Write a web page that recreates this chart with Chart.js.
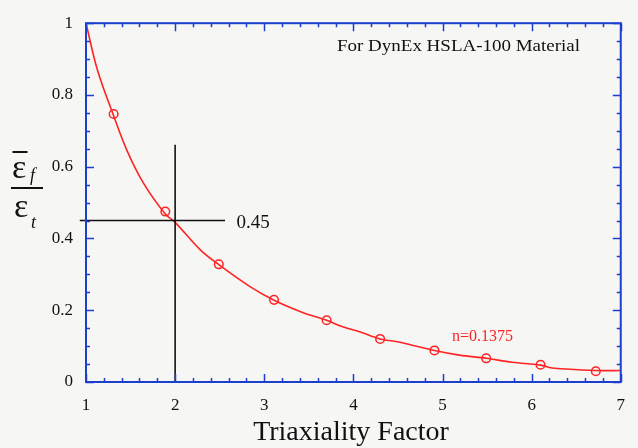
<!DOCTYPE html>
<html><head><meta charset="utf-8">
<script src="https://cdn.jsdelivr.net/npm/chart.js@4/dist/chart.umd.min.js"></script>
<style>html,body{margin:0;padding:0;background:#f6f6f4;}canvas{display:block}</style>
</head><body>
<canvas id="c" width="638" height="448"></canvas>
<script>
// Fitted curve
const curveX = [1.0, 1.13, 1.31, 1.46, 1.65, 1.89, 2.0, 2.28, 2.49, 2.84, 3.11, 3.43, 3.70, 3.88, 4.07, 4.30, 4.52, 4.91, 5.19, 5.49, 5.78, 6.10, 6.23, 6.72, 7.0];
const curveY = [1.0, 0.868, 0.742, 0.645, 0.552, 0.468, 0.445, 0.369, 0.327, 0.266, 0.228, 0.194, 0.172, 0.154, 0.140, 0.120, 0.111, 0.088, 0.075, 0.066, 0.055, 0.047, 0.039, 0.032, 0.032];
// Measured points (circles)
const pointX = [1.31, 1.89, 2.49, 3.11, 3.70, 4.30, 4.91, 5.49, 6.10, 6.72];
const pointY = [0.747, 0.475, 0.328, 0.229, 0.172, 0.120, 0.088, 0.066, 0.048, 0.030];
// Crosshair
const crossVX = [2, 2];
const crossVY = [0, 0.661];
const crossHX = [0.93, 2.56];
const crossHY = [0.45, 0.45];
const crossLabel = '0.45';
// Axis ticks
const xTickLabels = ['1','2','3','4','5','6','7'];
const yTickLabels = ['0','0.2','0.4','0.6','0.8','1'];
const xTitle = 'Triaxiality Factor';
const noteText = 'For DynEx HSLA-100 Material';
const fitText = 'n=0.1375';

const BLUE = '#1d3fd0';
const RED = '#ff2424';
const SERIF = '"Liberation Serif", "DejaVu Serif", serif';

const toPts = (xs, ys) => xs.map((x, i) => ({x, y: ys[i]}));

const decor = {
  id: 'decor',
  beforeDraw(chart) {
    const c = chart.ctx;
    c.save();
    c.fillStyle = '#f6f6f4';
    c.fillRect(0, 0, chart.width, chart.height);
    c.restore();
  },
  afterDraw(chart) {
    const c = chart.ctx, a = chart.chartArea;
    const xs = chart.scales.x, ys = chart.scales.y;
    c.save();
    // frame
    c.strokeStyle = BLUE;
    c.lineWidth = 2;
    c.strokeRect(a.left, a.top, a.right - a.left, a.bottom - a.top);
    // ticks inward
    c.lineWidth = 1.5;
    c.beginPath();
    for (let i = 0; i <= 30; i++) {
      const v = 1 + i * 0.2;
      const px = Math.round(xs.getPixelForValue(v)) + 0.5;
      const len = (i % 5 === 0) ? 8 : 4;
      c.moveTo(px, a.bottom); c.lineTo(px, a.bottom - len);
      c.moveTo(px, a.top); c.lineTo(px, a.top + len);
    }
    for (let i = 0; i <= 20; i++) {
      const v = i * 0.05;
      const py = Math.round(ys.getPixelForValue(v)) + 0.5;
      const len = (i % 4 === 0) ? 8 : 4;
      c.moveTo(a.left, py); c.lineTo(a.left + len, py);
      c.moveTo(a.right, py); c.lineTo(a.right - len, py);
    }
    c.stroke();
    // texts
    c.fillStyle = '#111';
    c.textBaseline = 'alphabetic';
    c.textAlign = 'left';
    c.font = '19px ' + SERIF;
    c.fillText(crossLabel, xs.getPixelForValue(2.69), ys.getPixelForValue(0.45) + 7);
    // note
    c.font = '16px "Palatino Linotype", ' + SERIF;
    const w = c.measureText(noteText).width;
    const target = 243;
    c.save();
    c.translate(337, 51);
    c.scale(target / w, 1);
    c.fillText(noteText, 0, 0);
    c.restore();
    // fit label
    c.fillStyle = RED;
    c.font = '16px ' + SERIF;
    c.fillText(fitText, 452, 341);
    // x title
    c.fillStyle = '#111';
    c.font = '28px ' + SERIF;
    c.textAlign = 'center';
    c.fillText(xTitle, 351, 440);
    // y title: fraction eps_f(bar) / eps_t
    c.textAlign = 'left';
    c.font = '34px ' + SERIF;
    c.fillText('\u03b5', 12, 178);
    c.fillText('\u03b5', 14, 217);
    c.font = 'italic 18px ' + SERIF;
    c.fillText('f', 30, 181);
    c.fillText('t', 31, 228);
    c.lineWidth = 2;
    c.strokeStyle = '#111';
    c.beginPath();
    c.moveTo(12.5, 152); c.lineTo(27.5, 152);
    c.moveTo(11, 188); c.lineTo(43, 188);
    c.stroke();
    c.restore();
  }
};

new Chart(document.getElementById('c'), {
  type: 'scatter',
  data: {
    datasets: [
      { data: toPts(crossVX, crossVY), showLine: true, borderColor: '#111', borderWidth: 1.6, pointRadius: 0, clip: false },
      { data: toPts(crossHX, crossHY), showLine: true, borderColor: '#111', borderWidth: 1.6, pointRadius: 0, clip: false },
      { data: toPts(curveX, curveY), showLine: true, borderColor: RED, borderWidth: 1.6, pointRadius: 0, tension: 0.35, clip: false },
      { data: toPts(pointX, pointY), showLine: false, pointRadius: 4.3, pointBorderColor: RED, pointBackgroundColor: 'rgba(0,0,0,0)', pointBorderWidth: 1.5 }
    ]
  },
  options: {
    responsive: false,
    animation: false,
    devicePixelRatio: 1,
    layout: { padding: { top: 11, right: 16, left: 0, bottom: 0 } },
    plugins: { legend: { display: false }, tooltip: { enabled: false } },
    scales: {
      x: {
        type: 'linear', min: 1, max: 7,
        afterFit(s) { s.height = 66; },
        afterBuildTicks(s) { s.ticks = xTickLabels.map(t => ({ value: Number(t) })); },
        ticks: { color: '#111', font: { family: SERIF, size: 17 }, padding: 13, maxRotation: 0,
                 callback: (v, i) => xTickLabels[i] },
        grid: { display: false, drawTicks: false },
        border: { display: false }
      },
      y: {
        type: 'linear', min: 0, max: 1,
        afterFit(s) { s.width = 86; },
        afterBuildTicks(s) { s.ticks = yTickLabels.map(t => ({ value: Number(t) })); },
        ticks: { color: '#111', font: { family: SERIF, size: 17 }, padding: 13,
                 callback: (v, i) => yTickLabels[i] },
        grid: { display: false, drawTicks: false },
        border: { display: false }
      }
    }
  },
  plugins: [decor]
});
</script>
</body></html>
